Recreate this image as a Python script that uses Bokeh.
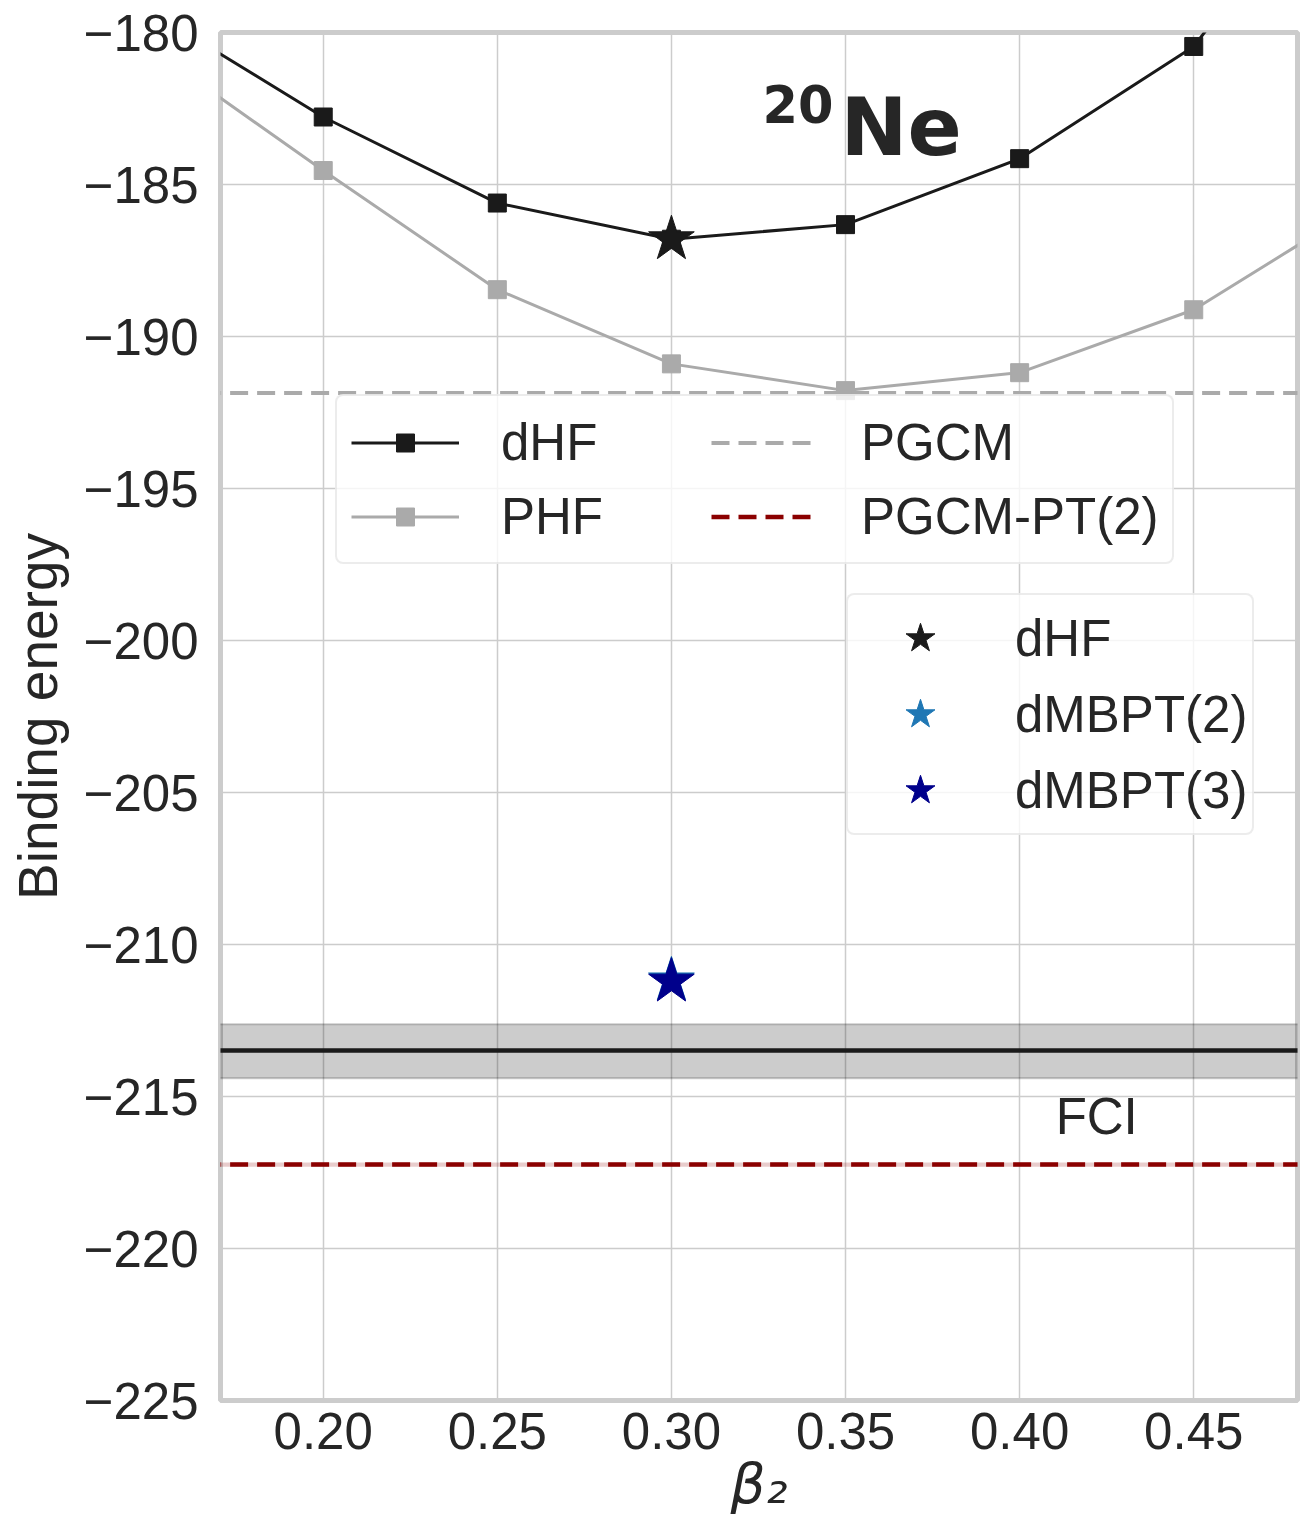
from bokeh.plotting import figure
from bokeh.models import Range1d, Legend, LegendItem, Label, FixedTicker, CustomJSTickFormatter
from bokeh.embed import file_html
from bokeh.resources import INLINE

# ---- data ----
beta = [0.15, 0.20, 0.25, 0.30, 0.35, 0.40, 0.45, 0.50]
dhf = [-179.27, -182.78, -185.61, -186.80, -186.32, -184.15, -180.46, -173.0]
phf = [-180.50, -184.54, -188.46, -190.90, -191.78, -191.19, -189.12, -185.57]
pgcm = -191.86
pgcm_pt2 = -217.24
pgcm_pt2_err = 0.07
fci = -213.49
fci_lo = -214.40
fci_hi = -212.62
star_beta = [0.30]
dhf_star = [-186.80]
dmbpt2 = [-211.18]
dmbpt3 = [-211.22]
x_ticks = [0.20, 0.25, 0.30, 0.35, 0.40, 0.45]
y_ticks = [-225, -220, -215, -210, -205, -200, -195, -190, -185, -180]

n = len(beta)
TXT = "#262626"

p = figure(width=1307, height=1525, x_range=Range1d(0.1705, 0.4798), y_range=Range1d(-225, -180),
           output_backend="svg", toolbar_location=None,
           min_border_left=220, min_border_right=10, min_border_top=32, min_border_bottom=125)
p.background_fill_color = "white"
p.border_fill_color = "white"
p.outline_line_color = "#cccccc"
p.outline_line_width = 5

for ax in (p.xaxis[0], p.yaxis[0]):
    ax.axis_line_color = None
    ax.major_tick_line_color = None
    ax.minor_tick_line_color = None
    ax.major_label_text_font = "Liberation Sans"
    ax.major_label_text_font_size = "51px"
    ax.major_label_text_color = TXT
    ax.axis_label_text_color = TXT

p.xaxis.ticker = FixedTicker(ticks=x_ticks)
p.yaxis.ticker = FixedTicker(ticks=y_ticks)
p.xaxis.formatter = CustomJSTickFormatter(code="return tick.toFixed(2);")
p.yaxis.formatter = CustomJSTickFormatter(code="return (tick < 0 ? '\u2212' : '') + Math.abs(tick).toFixed(0);")
p.xaxis.major_label_standoff = 6
p.yaxis.major_label_standoff = 16

p.yaxis.axis_label = "Binding energy"
p.yaxis.axis_label_text_font = "Liberation Sans"
p.yaxis.axis_label_text_font_size = "55px"
p.yaxis.axis_label_text_font_style = "normal"
p.yaxis.axis_label_standoff = 12
p.xaxis.axis_label = "β₂"
p.xaxis.axis_label_text_font = "DejaVu Sans"
p.xaxis.axis_label_text_font_size = "55px"
p.xaxis.axis_label_text_font_style = "italic"
p.xaxis.axis_label_standoff = 0

p.xgrid.ticker = FixedTicker(ticks=x_ticks)
p.ygrid.ticker = FixedTicker(ticks=y_ticks)
for g in (p.xgrid[0], p.ygrid[0]):
    g.grid_line_color = "#cccccc"
    g.grid_line_width = 1.5

# curves
l_dhf = p.line(beta, dhf, line_color="#1a1a1a", line_width=3)
s_dhf = p.scatter(beta, dhf, marker="square", size=18, color="#1a1a1a")
l_phf = p.line(beta, phf, line_color="#aaaaaa", line_width=3)
s_phf = p.scatter(beta, phf, marker="square", size=18, color="#aaaaaa")

l_pgcm = p.line(beta, [pgcm] * n, line_color="#aaaaaa", line_width=4, line_dash="18 9")

p.varea(x=beta, y1=[pgcm_pt2 - pgcm_pt2_err] * n, y2=[pgcm_pt2 + pgcm_pt2_err] * n,
        fill_color="#8b0000", fill_alpha=0.2)
l_pt2 = p.line(beta, [pgcm_pt2] * n, line_color="#8b0000", line_width=4.5, line_dash="18 9")

p.varea(x=beta, y1=[fci_lo] * n, y2=[fci_hi] * n, fill_color="black", fill_alpha=0.2)
p.line(beta, [fci_lo] * n, line_color="black", line_alpha=0.2, line_width=2)
p.line(beta, [fci_hi] * n, line_color="black", line_alpha=0.2, line_width=2)
p.line(beta, [fci] * n, line_color="#1a1a1a", line_width=4.5)

st_dhf = p.scatter(star_beta, dhf_star, marker="star", size=48, color="#1a1a1a")
st_m2 = p.scatter(star_beta, dmbpt2, marker="star", size=48, color="#1f77b4")
st_m3 = p.scatter(star_beta, dmbpt3, marker="star", size=48, color="#00008b")

# legends
leg1 = Legend(items=[
    LegendItem(label="dHF", renderers=[l_dhf, s_dhf]),
    LegendItem(label="PHF", renderers=[l_phf, s_phf]),
    LegendItem(label="PGCM", renderers=[l_pgcm]),
    LegendItem(label="PGCM-PT(2)", renderers=[l_pt2]),
], location=(115, 836), ncols=2, orientation="vertical", margin=0,
    glyph_width=108, glyph_height=45, label_height=64, label_width=200,
    label_standoff=42, spacing=10, padding=14,
    border_line_color="#d9d9d9", border_line_width=2,
    background_fill_color="white", background_fill_alpha=0.8,
    label_text_font="Liberation Sans", label_text_font_size="51px", label_text_color=TXT)

leg2 = Legend(items=[
    LegendItem(label="dHF", renderers=[st_dhf]),
    LegendItem(label="dMBPT(2)", renderers=[st_m2]),
    LegendItem(label="dMBPT(3)", renderers=[st_m3]),
], location=(626, 565), margin=0,
    glyph_width=134, glyph_height=76, label_height=66,
    label_standoff=28, spacing=0, padding=5,
    border_line_color="#d9d9d9", border_line_width=2,
    background_fill_color="white", background_fill_alpha=0.8,
    label_text_font="Liberation Sans", label_text_font_size="51px", label_text_color=TXT)

for lg in (leg1, leg2):
    if "border_radius" in lg.properties():
        lg.border_radius = 8
    p.add_layout(lg, "center")

# annotations
p.add_layout(Label(x=0.32615, y=-182.34, text="20", text_font="DejaVu Sans", text_font_style="bold",
                   text_font_size="51px", text_color=TXT, text_baseline="alphabetic"))
p.add_layout(Label(x=0.34856, y=-183.13, text="Ne", text_font="DejaVu Sans", text_font_style="bold",
                   text_font_size="80px", text_color=TXT, text_baseline="alphabetic"))
p.add_layout(Label(x=0.41034, y=-215.66, text="FCI", text_font="Liberation Sans",
                   text_font_size="51px", text_color=TXT, text_baseline="alphabetic"))

open("out.html", "w").write(file_html(p, INLINE))
